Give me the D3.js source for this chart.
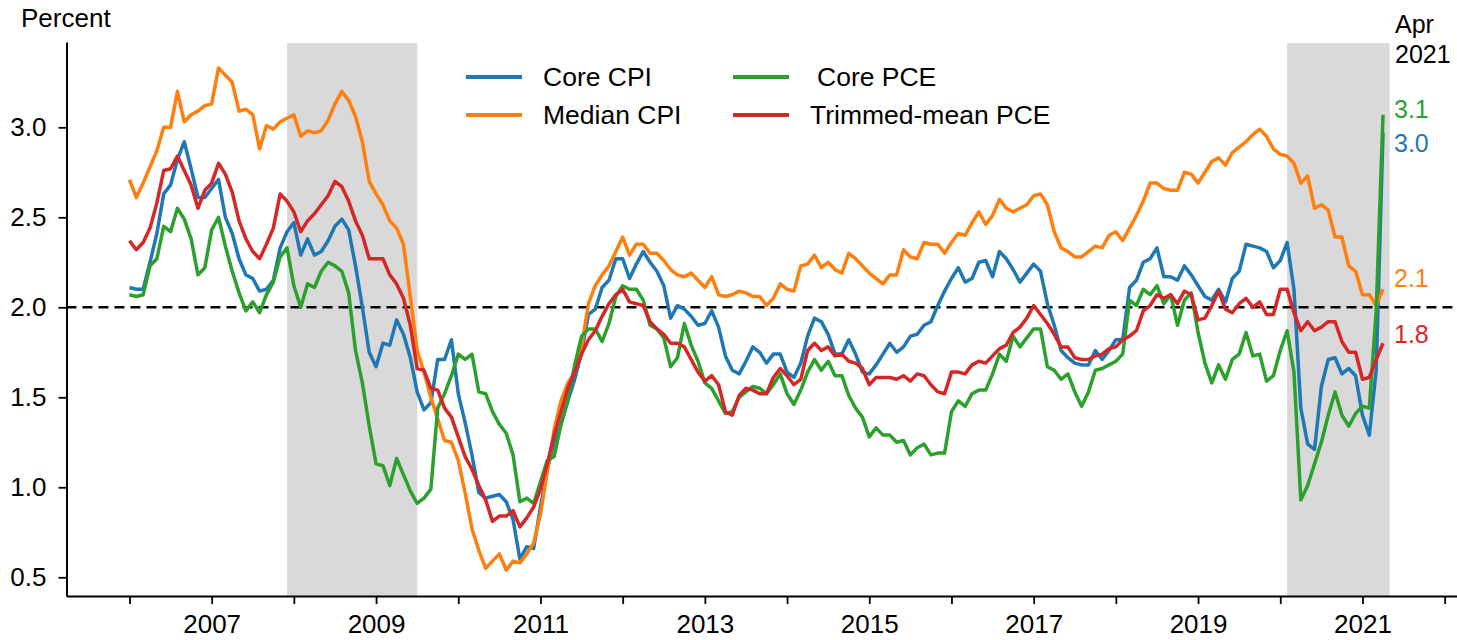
<!DOCTYPE html>
<html><head><meta charset="utf-8">
<script src="https://cdn.jsdelivr.net/npm/d3@7"></script>
<style>body{margin:0;background:#fff} text{font-family:"Liberation Sans",Arial,Helvetica,sans-serif;}</style>
</head><body>
<svg id="chart" width="1457" height="640"></svg>
<script>
// ---------- data (monthly, Jan 2006 – Apr 2021, 12-month percent change) ----------
const startYear = 2006;
const seriesNames = ["Core CPI", "Median CPI", "Core PCE", "Trimmed-mean PCE"];
const seriesColors = ["#1f77b4", "#ff7f0e", "#2ca02c", "#d62728"];

const coreCPI = [
  2.11,2.10,2.10,2.25,2.41,2.63,2.68,2.82,2.92,2.77,2.61,2.61,
  2.66,2.71,2.50,2.41,2.27,2.18,2.16,2.09,2.10,2.15,2.33,2.42,
  2.47,2.29,2.38,2.29,2.31,2.37,2.45,2.49,2.43,2.23,2.00,1.75,
  1.67,1.80,1.79,1.93,1.85,1.72,1.53,1.43,1.47,1.71,1.71,1.82,
  1.52,1.36,1.18,0.97,0.94,0.95,0.96,0.92,0.82,0.60,0.67,0.66,
  0.89,1.10,1.25,1.35,1.48,1.60,1.75,1.96,1.99,2.11,2.15,2.27,
  2.27,2.16,2.24,2.31,2.25,2.20,2.12,1.94,2.01,1.99,1.95,1.90,
  1.91,1.98,1.89,1.73,1.65,1.63,1.70,1.78,1.75,1.69,1.74,1.74,
  1.64,1.61,1.69,1.84,1.94,1.92,1.85,1.74,1.74,1.82,1.74,1.64,
  1.63,1.68,1.74,1.80,1.75,1.78,1.84,1.85,1.90,1.92,2.01,2.09,
  2.16,2.22,2.14,2.16,2.25,2.26,2.17,2.31,2.27,2.21,2.14,2.19,
  2.24,2.20,2.02,1.90,1.76,1.72,1.69,1.68,1.68,1.76,1.71,1.76,
  1.82,1.82,2.11,2.15,2.25,2.27,2.33,2.17,2.17,2.15,2.23,2.18,
  2.12,2.06,2.04,2.10,2.03,2.16,2.20,2.35,2.34,2.33,2.31,2.22,
  2.26,2.36,2.10,1.44,1.24,1.21,1.56,1.71,1.72,1.63,1.66,1.62,
  1.40,1.29,1.65,2.97
];
const medianCPI = [
  2.71,2.61,2.69,2.78,2.87,3.00,3.00,3.20,3.03,3.07,3.09,3.12,
  3.13,3.33,3.29,3.25,3.09,3.10,3.07,2.88,3.01,2.99,3.03,3.05,
  3.07,2.95,2.98,2.97,2.98,3.04,3.13,3.20,3.15,3.06,2.92,2.70,
  2.63,2.57,2.48,2.44,2.35,2.06,1.76,1.64,1.50,1.38,1.26,1.25,
  1.15,0.97,0.77,0.65,0.55,0.59,0.63,0.54,0.59,0.58,0.63,0.69,
  0.85,1.09,1.32,1.48,1.58,1.64,1.78,2.02,2.12,2.18,2.23,2.31,
  2.39,2.29,2.35,2.35,2.30,2.30,2.26,2.21,2.18,2.17,2.19,2.15,
  2.11,2.17,2.07,2.06,2.07,2.09,2.08,2.06,2.06,2.01,2.05,2.13,
  2.10,2.09,2.23,2.24,2.29,2.22,2.25,2.21,2.19,2.30,2.27,2.23,
  2.19,2.16,2.13,2.18,2.18,2.32,2.28,2.27,2.36,2.35,2.35,2.30,
  2.36,2.41,2.40,2.47,2.53,2.46,2.51,2.60,2.55,2.53,2.55,2.57,
  2.62,2.63,2.57,2.42,2.33,2.31,2.28,2.28,2.31,2.34,2.33,2.40,
  2.42,2.37,2.44,2.51,2.59,2.69,2.69,2.66,2.65,2.65,2.75,2.74,
  2.69,2.75,2.81,2.83,2.79,2.86,2.89,2.92,2.96,2.99,2.95,2.88,
  2.85,2.84,2.80,2.69,2.73,2.55,2.57,2.54,2.39,2.39,2.23,2.20,
  2.07,2.07,2.01,2.10
];
const corePCE = [
  2.07,2.06,2.07,2.23,2.27,2.45,2.42,2.55,2.49,2.38,2.18,2.22,
  2.43,2.50,2.34,2.20,2.08,1.98,2.03,1.97,2.07,2.14,2.28,2.33,
  2.12,2.00,2.13,2.11,2.20,2.25,2.23,2.20,2.08,1.76,1.58,1.34,
  1.13,1.12,1.01,1.16,1.07,0.98,0.91,0.94,0.99,1.44,1.52,1.62,
  1.74,1.71,1.74,1.53,1.52,1.42,1.35,1.30,1.18,0.92,0.94,0.91,
  1.03,1.15,1.17,1.35,1.49,1.68,1.84,1.88,1.88,1.81,1.91,2.06,
  2.12,2.10,2.10,2.04,1.90,1.88,1.83,1.67,1.72,1.91,1.79,1.70,
  1.58,1.55,1.48,1.41,1.42,1.50,1.53,1.56,1.55,1.52,1.57,1.63,
  1.52,1.46,1.54,1.64,1.71,1.65,1.70,1.62,1.62,1.51,1.44,1.39,
  1.28,1.33,1.29,1.29,1.25,1.26,1.18,1.22,1.24,1.18,1.19,1.19,
  1.42,1.48,1.45,1.52,1.54,1.54,1.63,1.74,1.70,1.84,1.78,1.83,
  1.88,1.88,1.67,1.65,1.60,1.63,1.53,1.45,1.53,1.65,1.66,1.68,
  1.70,1.74,2.04,2.01,2.10,2.07,2.12,2.02,2.07,1.90,2.04,2.08,
  1.86,1.69,1.58,1.68,1.60,1.71,1.74,1.86,1.73,1.74,1.59,1.62,
  1.76,1.87,1.64,0.93,1.01,1.13,1.25,1.40,1.53,1.40,1.34,1.41,
  1.45,1.44,1.98,3.07
];
const trimmedPCE = [
  2.37,2.32,2.36,2.44,2.58,2.76,2.77,2.84,2.76,2.68,2.55,2.65,
  2.69,2.80,2.74,2.64,2.48,2.38,2.31,2.27,2.35,2.44,2.63,2.59,
  2.53,2.42,2.48,2.52,2.57,2.62,2.70,2.67,2.59,2.48,2.40,2.27,
  2.27,2.27,2.18,2.13,2.05,1.90,1.66,1.65,1.55,1.54,1.44,1.39,
  1.28,1.17,1.10,1.01,0.93,0.81,0.84,0.84,0.87,0.78,0.83,0.89,
  0.99,1.13,1.29,1.42,1.55,1.64,1.74,1.82,1.87,1.95,2.02,2.07,
  2.10,2.03,2.02,2.01,1.92,1.88,1.85,1.80,1.80,1.78,1.71,1.64,
  1.59,1.62,1.57,1.42,1.40,1.51,1.55,1.54,1.52,1.52,1.61,1.66,
  1.62,1.57,1.60,1.76,1.80,1.76,1.78,1.73,1.74,1.70,1.69,1.66,
  1.57,1.61,1.61,1.61,1.60,1.62,1.59,1.63,1.62,1.57,1.53,1.52,
  1.64,1.64,1.63,1.68,1.70,1.69,1.73,1.77,1.79,1.86,1.89,1.94,
  2.01,1.96,1.91,1.85,1.78,1.78,1.72,1.71,1.71,1.73,1.74,1.77,
  1.78,1.82,1.84,1.87,1.98,2.01,2.07,2.05,2.07,2.02,2.09,2.07,
  1.93,1.94,2.01,2.09,1.99,1.97,2.02,2.05,2.00,2.03,1.96,1.96,
  2.10,2.10,1.97,1.87,1.92,1.87,1.89,1.92,1.92,1.81,1.75,1.75,
  1.60,1.61,1.71,1.80
];
const recessions = [[2007.917, 2009.5], [2020.083, 2021.33]];
const xTickYears = d3.range(2006, 2023);
const yTickValues = [0.5, 1.0, 1.5, 2.0, 2.5, 3.0];
const targetRate = 2.0;
const endLabels = ["3.1", "3.0", "2.1", "1.8"];
const endLabelSeries = [2, 0, 1, 3];
const endLabelLevels = [3.10, 2.91, 2.16, 1.85];
const dateLabel = ["Apr", "2021"];

// ---------- chart ----------
const allSeries = [coreCPI, medianCPI, corePCE, trimmedPCE];
const svg = d3.select("#chart");
const FS = 26;

const x = d3.scaleLinear().domain([2005.234, 2022.15]).range([66.5, 1457]);
const y = d3.scaleLinear().domain([0.396, 3.474]).range([596, 42]);
const t = i => startYear + i / 12;

// recession shading
svg.append("g").selectAll("rect").data(recessions).join("rect")
  .attr("x", d => x(d[0])).attr("width", d => x(d[1]) - x(d[0]))
  .attr("y", y(3.468)).attr("height", y(0.396) - y(3.468))
  .attr("fill", "#d9d9d9");

// target line
svg.append("line")
  .attr("x1", x.range()[0]).attr("x2", x.range()[1])
  .attr("y1", y(targetRate)).attr("y2", y(targetRate))
  .attr("stroke", "#000").attr("stroke-width", 2.4).attr("stroke-dasharray", "10,6");

// series lines
const line = d3.line().x((d, i) => x(t(i))).y(d => y(d));
svg.append("g").selectAll("path").data(allSeries).join("path")
  .attr("d", line).attr("fill", "none")
  .attr("stroke", (d, i) => seriesColors[i])
  .attr("stroke-width", 3.5).attr("stroke-linejoin", "round");

// axes
const xAxis = d3.axisBottom(x).tickValues(xTickYears).tickSize(8).tickSizeOuter(0)
  .tickPadding(11).tickFormat(d => d % 2 === 1 ? String(d) : "");
const gx = svg.append("g").attr("transform", `translate(0,${y.range()[0]})`).call(xAxis);
const yAxis = d3.axisLeft(y).tickValues(yTickValues).tickSize(8).tickSizeOuter(0)
  .tickPadding(12).tickFormat(d3.format(".1f"));
const gy = svg.append("g").attr("transform", `translate(${x.range()[0]},0)`).call(yAxis);
[gx, gy].forEach(g => {
  g.select(".domain").attr("stroke", "#000").attr("stroke-width", 2);
  g.selectAll(".tick line").attr("stroke", "#000").attr("stroke-width", 1.8);
  g.selectAll(".tick text").attr("font-size", FS).attr("fill", "#000")
    .style("font-family", '"Liberation Sans", Arial, sans-serif');
});

// y-axis title
svg.append("text").attr("x", 21).attr("y", 27).attr("font-size", FS).text("Percent");

// legend (two columns, column-major)
const legendPos = [
  {lx: 466, tx: 543, y: 77}, {lx: 466, tx: 543, y: 115},
  {lx: 733, tx: 817, y: 77}, {lx: 733, tx: 810, y: 115}
];
const lg = svg.append("g").selectAll("g").data(seriesNames).join("g");
lg.append("line")
  .attr("x1", (d, i) => legendPos[i].lx).attr("x2", (d, i) => legendPos[i].lx + 56)
  .attr("y1", (d, i) => legendPos[i].y).attr("y2", (d, i) => legendPos[i].y)
  .attr("stroke", (d, i) => seriesColors[i]).attr("stroke-width", 4);
lg.append("text")
  .attr("x", (d, i) => legendPos[i].tx).attr("y", (d, i) => legendPos[i].y)
  .attr("dy", "0.35em").attr("font-size", 26.5).text(d => d);

// end-of-series labels
svg.append("g").selectAll("text").data(endLabels).join("text")
  .attr("x", 1394).attr("y", (d, i) => y(endLabelLevels[i])).attr("dy", "0.35em")
  .attr("font-size", 25).attr("fill", (d, i) => seriesColors[endLabelSeries[i]])
  .text(d => d);

// date label
svg.append("g").selectAll("text").data(dateLabel).join("text")
  .attr("x", 1395).attr("y", (d, i) => 33 + i * 30)
  .attr("font-size", 25).text(d => d);
</script>
</body></html>
